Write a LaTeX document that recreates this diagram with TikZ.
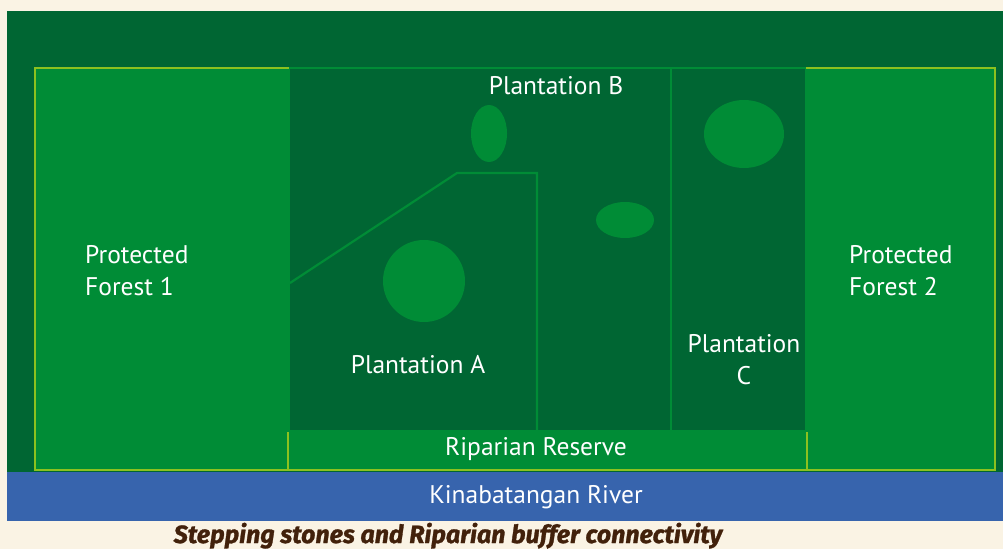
\documentclass[tikz,border=0pt]{standalone}
\usepackage{fontspec}
\setmainfont{PT Sans}
\newfontfamily\capfont[BoldItalicFeatures={FakeBold=1.2}]{Fira Sans}
\definecolor{cream}{RGB}{250,243,228}
\definecolor{darkg}{RGB}{0,102,51}
\definecolor{midg}{RGB}{0,140,54}
\definecolor{lime}{RGB}{140,193,31}
\definecolor{river}{RGB}{55,100,173}
\definecolor{capbrown}{RGB}{66,33,11}
\tikzset{
  lbl/.style={text=white,font=\fontsize{25.5}{30}\selectfont,inner sep=0pt},
  limeline/.style={draw=lime,line width=2.2pt},
  plantline/.style={draw=midg,line width=2.2pt},
  stone/.style={fill=midg,draw=none}
}
\begin{document}
\begin{tikzpicture}[x=1pt,y=-1pt]
\useasboundingbox (0,0) rectangle (1003,549);
\fill[cream] (0,0) rectangle (1003,549);
\fill[darkg] (7,11) rectangle (1003,472);
\fill[river] (7,472) rectangle (1003,520.5);
% forests
\fill[midg] (35,68) rectangle (289,470);
\fill[midg] (806,68) rectangle (995,470);
\fill[midg] (288,431) rectangle (807,470);
% plantation area
\fill[darkg] (289,68) rectangle (806,431);
\draw[plantline] (289,68) rectangle (806,431);
\draw[plantline] (671,68) -- (671,431);
\draw[plantline] (290,283) -- (457,173) -- (537,173) -- (537,431);
% lime borders
\draw[limeline] (289,68) -- (35,68) -- (35,470) -- (995,470) -- (995,68) -- (806,68);
\draw[limeline] (288,432) -- (288,470);
\draw[limeline] (807,432) -- (807,470);
% stepping stones
\fill[stone] (489,133.5) ellipse [x radius=18, y radius=28.5];
\fill[stone] (625,220) ellipse [x radius=29, y radius=18];
\fill[stone] (424,281) circle [radius=41];
\fill[stone] (744,134) ellipse [x radius=40, y radius=34];
% labels
\node[lbl,anchor=base] (pb) at (556,94) {Plantation B};
\node[lbl,anchor=base west] (pf1a) at (85,263) {Protected};
\node[lbl,anchor=base west] (pf1b) at (85,295) {Forest 1};
\node[lbl,anchor=base west] (pf2a) at (849,263) {Protected};
\node[lbl,anchor=base west] (pf2b) at (849,295) {Forest 2};
\node[lbl,anchor=base] (pa) at (418,373) {Plantation A};
\node[lbl,anchor=base] (pca) at (744,352) {Plantation};
\node[lbl,anchor=base] (pcb) at (744,384) {C};
\node[lbl,anchor=base] (rr) at (536,455) {Riparian Reserve};
\node[lbl,anchor=base] (kr) at (536,503) {Kinabatangan River};
\node[text=capbrown,font=\capfont\bfseries\itshape\fontsize{25}{30}\selectfont,inner sep=0pt,anchor=base] (cap) at (448,543) {Stepping stones and Riparian buffer connectivity};
\end{tikzpicture}
\end{document}
